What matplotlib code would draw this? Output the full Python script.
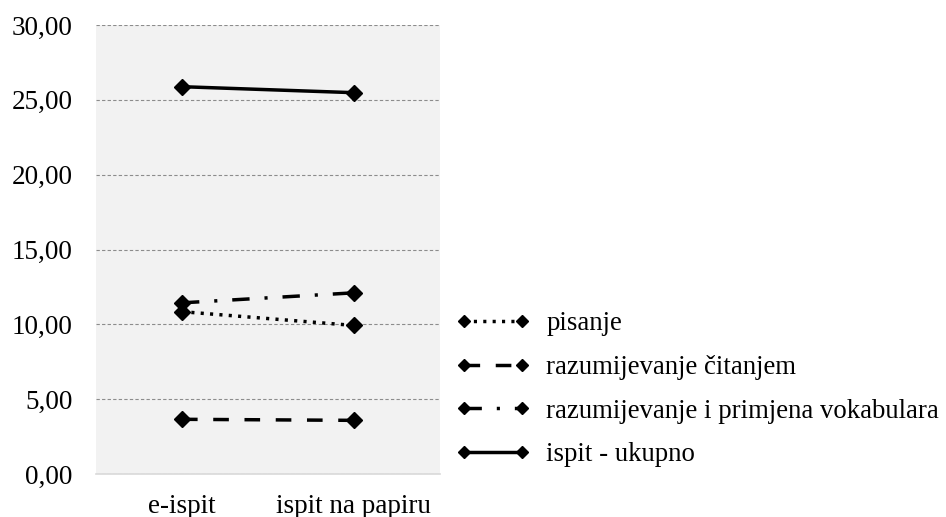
import matplotlib
matplotlib.use("Agg")
import matplotlib.pyplot as plt

categories = ["e-ispit", "ispit na papiru"]
pisanje = [10.85, 9.93]
citanje = [3.66, 3.59]
vokabular = [11.44, 12.11]
ukupno = [25.88, 25.48]
yticks = [0, 5, 10, 15, 20, 25, 30]

plt.rcParams['font.family'] = ['Liberation Serif', 'DejaVu Serif']
fs = 19.5

fig = plt.figure(figsize=(9.46, 5.17), dpi=100)
ax = fig.add_axes([0.1015, 0.083, 0.3635, 0.8686])
ax.set_facecolor('#f2f2f2')

x = [0, 1]
style = dict(color='black', marker='D', markersize=8, lw=2.5)
ax.plot(x, pisanje, ls=(0, (0.9, 1.8)), label='pisanje', **style)
ax.plot(x, citanje, ls=(0, (4.5, 4.5)), label='razumijevanje čitanjem', **style)
ax.plot(x, vokabular, ls=(0, (5, 4.3, 0.9, 4.3)), label='razumijevanje i primjena vokabulara', **style)
ax.plot(x, ukupno, ls='-', label='ispit - ukupno', **style)

ax.set_xlim(-0.5, 1.5)
ax.set_ylim(0, 30)
ax.set_yticks(yticks)
ax.set_yticklabels(['%d,00' % v for v in yticks], fontsize=fs)
ax.set_xticks(x)
ax.set_xticklabels(categories, fontsize=fs)
ax.yaxis.grid(True, ls=(0, (3, 2)), color='#8c8c8c', lw=0.8)
ax.set_axisbelow(True)
for s in ['top', 'right', 'left']:
    ax.spines[s].set_visible(False)
ax.spines['bottom'].set_color('#d9d9d9')
ax.spines['bottom'].set_linewidth(1.2)
ax.tick_params(axis='y', length=0, pad=17)
ax.tick_params(axis='x', length=0, pad=14)

fig.legend(loc='center left', bbox_to_anchor=(0.457, 0.247), frameon=False,
           fontsize=19.3, handlelength=2.75, labelspacing=0.7, handletextpad=0.6,
           numpoints=2, markerscale=0.8)

fig.savefig('out.png', dpi=100)
